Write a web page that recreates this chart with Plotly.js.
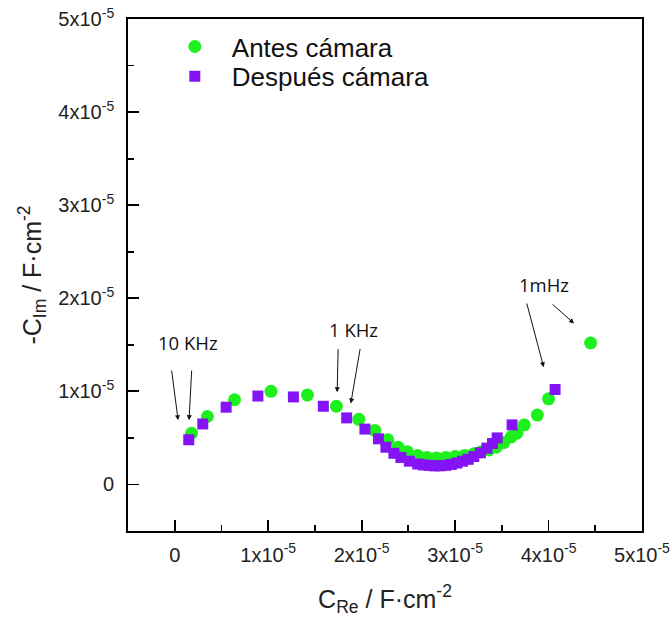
<!DOCTYPE html>
<html>
<head>
<meta charset="utf-8">
<script src="https://cdn.plot.ly/plotly-3.0.1.min.js"></script>
<style>html,body{margin:0;padding:0;background:#fff;}#chart{width:672px;height:617px;}</style>
</head>
<body>
<div id="chart"></div>
<script>
// values in units of 1e-5 F·cm^-2
const UNIT = 1e-5;
const antesRe = [0.18,0.35,0.64,1.03,1.42,1.73,1.97,2.14,2.28,2.39,2.49,2.60,2.70,2.80,2.90,3.00,3.10,3.20,3.28,3.36,3.44,3.52,3.60,3.66,3.74,3.88,4.00,4.45];
const antesIm = [0.55,0.73,0.91,1.00,0.96,0.84,0.70,0.58,0.48,0.40,0.35,0.31,0.29,0.285,0.29,0.30,0.31,0.33,0.35,0.37,0.40,0.45,0.51,0.55,0.64,0.745,0.92,1.52];
const despuesRe = [0.15,0.30,0.55,0.89,1.27,1.59,1.84,2.035,2.18,2.26,2.345,2.42,2.51,2.60,2.66,2.72,2.78,2.84,2.90,2.96,3.02,3.08,3.14,3.20,3.27,3.34,3.40,3.45,3.61,4.07];
const despuesIm = [0.48,0.65,0.83,0.95,0.94,0.84,0.715,0.595,0.49,0.40,0.335,0.29,0.25,0.22,0.21,0.205,0.20,0.20,0.205,0.215,0.23,0.25,0.27,0.30,0.34,0.39,0.44,0.50,0.64,1.02];
const seriesNames = ['Antes cámara','Después cámara'];
const tickValues = [0,1,2,3,4,5];
const tickLabels = ['0','1x10<sup>-5</sup>','2x10<sup>-5</sup>','3x10<sup>-5</sup>','4x10<sup>-5</sup>','5x10<sup>-5</sup>'];
const minorValues = [-0.5,0.5,1.5,2.5,3.5,4.5];
// annotation labels and arrows: [tailX, tailY, headX, headY] in 1e-5 units
const labelTexts = ['10 KHz','1 KHz','1mHz'];
const labelPos = [[0.14,1.52],[1.91,1.66],[3.95,2.15]];
const arrows = [
  [-0.035,1.24,0.036,0.69],[0.182,1.24,0.153,0.69],
  [1.749,1.47,1.738,0.99],[1.986,1.47,1.884,0.87],
  [3.763,1.96,3.948,1.26],[4.026,1.95,4.273,1.73]
];

const s = v => v.map(a => a*UNIT);

const traces = [
  {x: s(antesRe), y: s(antesIm), name: seriesNames[0], type:'scatter', mode:'markers', legend:'legend',
   marker:{symbol:'circle', size:13, color:'#1ef01e'}},
  {x: s(despuesRe), y: s(despuesIm), name: seriesNames[1], type:'scatter', mode:'markers', legend:'legend2',
   marker:{symbol:'square', size:11, color:'#8414f5'}}
];

const font = 'Liberation Sans, Arial, sans-serif';
function axis(title, standoff, lblStandoff){
  return {
    range:[-0.5*UNIT, 5*UNIT], tickmode:'array', tickvals:s(tickValues), ticktext:tickLabels,
    ticks:'inside', ticklen:11, tickwidth:1.8, tickcolor:'#000',
    minor:{tickmode:'array', tickvals:s(minorValues), ticks:'inside', ticklen:6, tickwidth:1.8, tickcolor:'#000'},
    showline:true, linecolor:'#000', linewidth:1.8, mirror:true,
    showgrid:false, zeroline:false, automargin:false,
    ticklabelstandoff: lblStandoff, ticklabeloverflow:'allow',
    tickfont:{family:font, size:20, color:'#222'},
    title:{text:title, standoff:standoff, font:{family:font, size:25, color:'#222'}}
  };
}

const annotations = [];
labelTexts.forEach((t,i)=>{
  annotations.push({x:labelPos[i][0]*UNIT, y:labelPos[i][1]*UNIT, xref:'x', yref:'y', text:t, showarrow:false,
    font:{family:'Open Sans, sans-serif', size:18.5, color:'#111'}});
});
arrows.forEach(a=>{
  annotations.push({x:a[2]*UNIT, y:a[3]*UNIT, ax:a[0]*UNIT, ay:a[1]*UNIT, xref:'x', yref:'y', axref:'x', ayref:'y',
    text:'', showarrow:true, arrowhead:2, arrowsize:1, arrowwidth:1, arrowcolor:'#111', standoff:0, startstandoff:0});
});

const legFont = {family:font, size:26, color:'#111'};
const layout = {
  width:672, height:617,
  margin:{l:128, r:30, t:19, b:86},
  paper_bgcolor:'#fff', plot_bgcolor:'#fff',
  xaxis: axis('C<sub>Re</sub> / F·cm<sup>-2</sup>', 26, 5),
  yaxis: axis('-C<sub>Im</sub> / F·cm<sup>-2</sup>', 10, 8),
  showlegend:true,
  legend:{x:0.058, y:0.992, xanchor:'left', yanchor:'top', bgcolor:'rgba(0,0,0,0)', itemwidth:64, font:legFont},
  legend2:{x:0.058, y:0.934, xanchor:'left', yanchor:'top', bgcolor:'rgba(0,0,0,0)', itemwidth:64, font:legFont},
  annotations: annotations
};

Plotly.newPlot('chart', traces, layout, {displayModeBar:false, staticPlot:true});
</script>
</body>
</html>
